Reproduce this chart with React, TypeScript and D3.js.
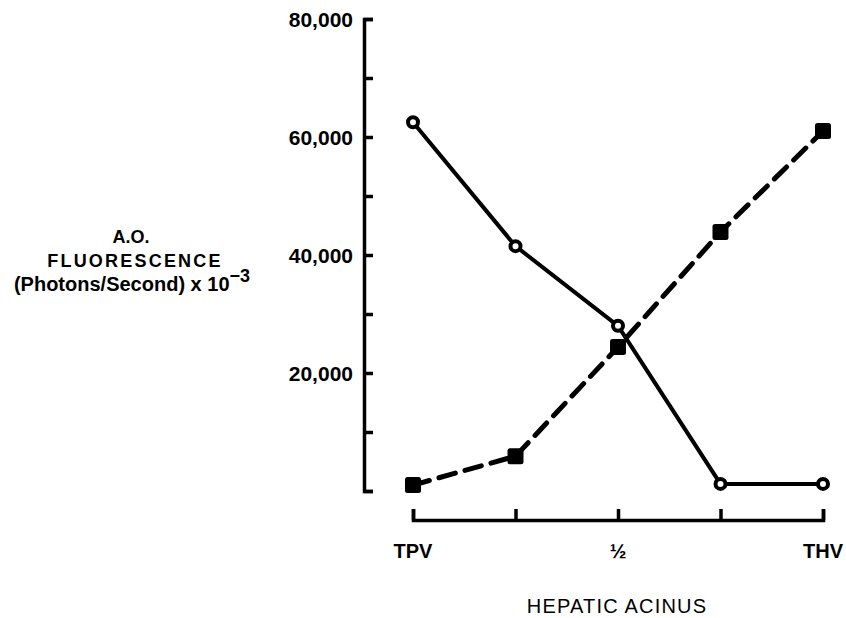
import React from "react";
import * as d3 from "d3";

const stations = ["TPV", "q1", "mid", "q3", "THV"];
const stationLabels = ["TPV", "", "½", "", "THV"];
const openCircleValues = [62500, 41500, 28000, 1200, 1200];
const filledSquareValues = [1000, 5900, 24400, 43900, 61000];
const yTickValues = [0, 10000, 20000, 30000, 40000, 50000, 60000, 70000, 80000];
const yLabelValues = [20000, 40000, 60000, 80000];

const WIDTH = 846;
const HEIGHT = 618;
const FONT = "'Liberation Sans', Arial, Helvetica, sans-serif";

export default function App() {
  const svgRef = React.useRef<SVGSVGElement>(null);

  React.useEffect(() => {
    const svg = d3.select(svgRef.current);
    svg.selectAll("*").remove();

    const x = d3.scalePoint<string>().domain(stations).range([413, 823]);
    const y = d3.scaleLinear().domain([0, 80000]).range([491, 19]);

    /* y axis: bracket with ticks pointing into the plot */
    const yAxis = svg
      .append("g")
      .attr("transform", "translate(364,0)")
      .call(
        d3
          .axisRight(y)
          .tickValues(yTickValues)
          .tickSizeInner(9)
          .tickSizeOuter(9)
          .tickFormat(() => "")
      );
    yAxis.select(".domain").attr("stroke", "#000").attr("stroke-width", 3.5).attr("fill", "none");
    yAxis.selectAll(".tick line").attr("stroke", "#000").attr("stroke-width", 3.5);

    /* y tick labels */
    svg
      .append("g")
      .selectAll("text")
      .data(yLabelValues)
      .enter()
      .append("text")
      .attr("x", 353)
      .attr("y", (d) => y(d))
      .attr("dy", "0.36em")
      .attr("text-anchor", "end")
      .attr("font-family", FONT)
      .attr("font-weight", "bold")
      .attr("font-size", 21)
      .text((d) => d3.format(",")(d));

    /* x axis: bracket with ticks pointing up */
    const xAxis = svg
      .append("g")
      .attr("transform", "translate(0,520)")
      .call(d3.axisTop(x).tickSizeInner(11).tickSizeOuter(11).tickFormat(() => ""));
    xAxis.select(".domain").attr("stroke", "#000").attr("stroke-width", 3.5).attr("fill", "none");
    xAxis.selectAll(".tick line").attr("stroke", "#000").attr("stroke-width", 3.5);

    svg
      .append("g")
      .selectAll("text")
      .data(stations)
      .enter()
      .append("text")
      .attr("x", (d) => x(d) as number)
      .attr("y", 558)
      .attr("text-anchor", "middle")
      .attr("font-family", FONT)
      .attr("font-weight", "bold")
      .attr("font-size", 20)
      .text((d, i) => stationLabels[i]);

    /* axis titles */
    svg
      .append("text")
      .attr("x", 617)
      .attr("y", 613)
      .attr("text-anchor", "middle")
      .attr("font-family", FONT)
      .attr("font-size", 20)
      .attr("letter-spacing", 1.2)
      .text("HEPATIC ACINUS");

    const yTitle = svg
      .append("g")
      .attr("font-family", FONT)
      .attr("font-weight", "bold")
      .attr("text-anchor", "middle");
    yTitle.append("text").attr("x", 131).attr("y", 243).attr("font-size", 18).text("A.O.");
    yTitle
      .append("text")
      .attr("x", 135)
      .attr("y", 267)
      .attr("font-size", 18)
      .attr("letter-spacing", 2.2)
      .text("FLUORESCENCE");
    const t3 = yTitle
      .append("text")
      .attr("x", 132)
      .attr("y", 291)
      .attr("font-size", 20)
      .text("(Photons/Second) x 10");
    t3.append("tspan").attr("dy", -9).attr("font-size", 18).text("−3");

    /* series lines */
    const line = d3
      .line<number>()
      .x((d, i) => x(stations[i]) as number)
      .y((d) => y(d));

    svg
      .append("path")
      .datum(filledSquareValues)
      .attr("d", line)
      .attr("fill", "none")
      .attr("stroke", "#000")
      .attr("stroke-width", 5)
      .attr("stroke-dasharray", "17,10")
      .attr("stroke-linecap", "round");

    svg
      .append("path")
      .datum(openCircleValues)
      .attr("d", line)
      .attr("fill", "none")
      .attr("stroke", "#000")
      .attr("stroke-width", 4);

    /* markers */
    svg
      .append("g")
      .selectAll("rect")
      .data(filledSquareValues)
      .enter()
      .append("rect")
      .attr("x", (d, i) => (x(stations[i]) as number) - 8)
      .attr("y", (d) => y(d) - 8)
      .attr("width", 16)
      .attr("height", 16)
      .attr("rx", 2.5)
      .attr("fill", "#000");

    svg
      .append("g")
      .selectAll("circle")
      .data(openCircleValues)
      .enter()
      .append("circle")
      .attr("cx", (d, i) => x(stations[i]) as number)
      .attr("cy", (d) => y(d))
      .attr("r", 5)
      .attr("fill", "#fff")
      .attr("stroke", "#000")
      .attr("stroke-width", 4);
  }, []);

  return (
    <svg
      ref={svgRef}
      width={WIDTH}
      height={HEIGHT}
      style={{ position: "absolute", left: 0, top: 0, background: "#fff" }}
    />
  );
}
